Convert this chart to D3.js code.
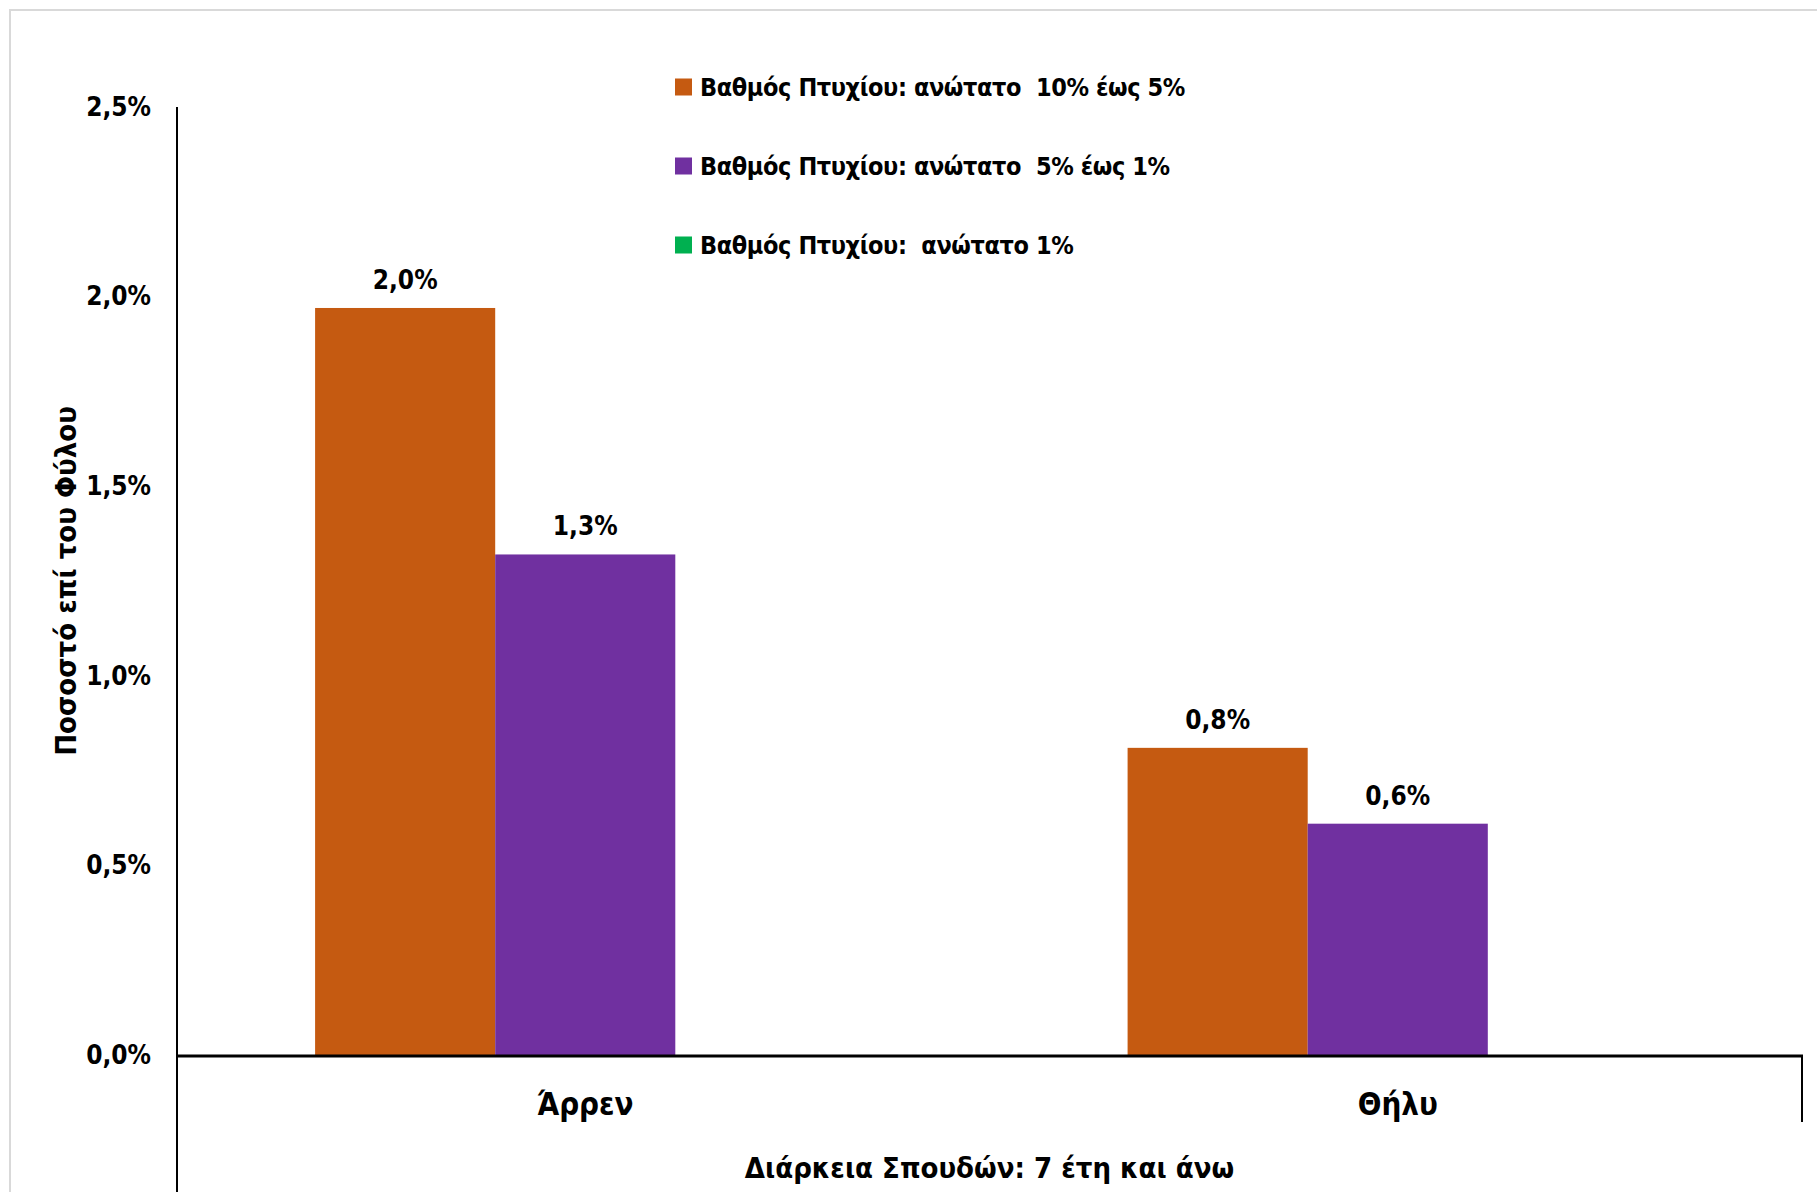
<!DOCTYPE html>
<meta charset="utf-8">
<head>
<style>
  body { margin: 0; background: #fff; }
  svg text { font-family: "Liberation Sans Narrow", "DejaVu Sans Condensed", "Liberation Sans", sans-serif; font-weight: bold; fill: #000; }
  .axis .domain { display: none; }
  .axis line { display: none; }
</style>
</head>
<body>
<script src="https://d3js.org/d3.v7.min.js"></script>
<script>

// data
var categories = ["Άρρεν", "Θήλυ"];
var seriesNames = [
  "Βαθμός Πτυχίου: ανώτατο  10% έως 5%",
  "Βαθμός Πτυχίου: ανώτατο  5% έως 1%",
  "Βαθμός Πτυχίου:  ανώτατο 1%"
];
var seriesColors = ["#c55a11", "#7030a0", "#00b050"];
var top10to5 = [0.0197, 0.0081];
var top5to1 = [0.0132, 0.0061];
var top1 = [null, null];
var yTicks = [0, 0.005, 0.01, 0.015, 0.02, 0.025];

var allSeries = [top10to5, top5to1, top1];

var width = 1817, height = 1192;
var plot = {left: 177, right: 1802, top: 107, bottom: 1055};

var svg = d3.select("body").append("svg")
    .attr("width", width)
    .attr("height", height);

// chart border
svg.append("rect")
    .attr("x", 10).attr("y", 10)
    .attr("width", width).attr("height", height)
    .style("fill", "none")
    .style("stroke", "#d9d9d9")
    .style("stroke-width", 2);

var y = d3.scaleLinear().domain([0, 0.025]).range([plot.bottom, plot.top]);

var x0 = d3.scaleBand().domain(categories)
    .range([plot.left + 2, plot.right + 2])
    .paddingInner(0.335).paddingOuter(0.1675);

var x1 = d3.scaleBand().domain(d3.range(seriesNames.length))
    .range([0, x0.bandwidth()]);

var pct = function(v) { return d3.format(".1%")(v).replace(".", ","); };

// y axis labels
var yAxis = d3.axisLeft(y).tickValues(yTicks).tickFormat(pct).tickSize(0).tickPadding(26);
svg.append("g")
    .attr("class", "axis")
    .attr("transform", "translate(" + plot.left + ",0)")
    .call(yAxis)
  .selectAll("text")
    .style("font-size", "26px");

// bars
var barData = [];
allSeries.forEach(function(vals, si) {
  vals.forEach(function(v, ci) {
    if (v != null) barData.push({s: si, c: categories[ci], v: v});
  });
});

svg.selectAll("rect.bar")
    .data(barData)
  .enter().append("rect")
    .attr("class", "bar")
    .attr("x", function(d) { return x0(d.c) + x1(d.s); })
    .attr("width", x1.bandwidth())
    .attr("y", function(d) { return y(d.v); })
    .attr("height", function(d) { return y(0) - y(d.v); })
    .style("fill", function(d) { return seriesColors[d.s]; });

svg.selectAll("text.lbl")
    .data(barData)
  .enter().append("text")
    .attr("class", "lbl")
    .attr("x", function(d) { return x0(d.c) + x1(d.s) + x1.bandwidth() / 2; })
    .attr("y", function(d) { return y(d.v) - 19; })
    .attr("text-anchor", "middle")
    .style("font-size", "26px")
    .text(function(d) { return pct(d.v); });

// axis lines
svg.append("line")
    .attr("x1", plot.left).attr("x2", plot.left)
    .attr("y1", plot.top).attr("y2", height)
    .style("stroke", "#000").style("stroke-width", 2);
svg.append("line")
    .attr("x1", plot.right).attr("x2", plot.right)
    .attr("y1", plot.bottom).attr("y2", 1122)
    .style("stroke", "#000").style("stroke-width", 2);
svg.append("line")
    .attr("x1", plot.left).attr("x2", plot.right + 1)
    .attr("y1", plot.bottom + 1).attr("y2", plot.bottom + 1)
    .style("stroke", "#000").style("stroke-width", 3);

// category labels
svg.selectAll("text.cat")
    .data(categories)
  .enter().append("text")
    .attr("class", "cat")
    .attr("x", function(d) { return x0(d) + x0.bandwidth() / 2; })
    .attr("y", 1104)
    .attr("dy", "0.35em")
    .attr("text-anchor", "middle")
    .style("font-size", "31px")
    .text(function(d) { return d; });

// x axis title
svg.append("text")
    .attr("x", (plot.left + plot.right) / 2)
    .attr("y", 1168)
    .attr("dy", "0.35em")
    .attr("text-anchor", "middle")
    .style("font-size", "29px")
    .text("Διάρκεια Σπουδών: 7 έτη και άνω");

// y axis title
svg.append("text")
    .attr("transform", "translate(66," + ((plot.top + plot.bottom) / 2) + ") rotate(-90)")
    .attr("dy", "0.35em")
    .attr("text-anchor", "middle")
    .style("font-size", "29px")
    .text("Ποσοστό επί του Φύλου");

// legend
var legend = svg.selectAll("g.legend")
    .data(seriesNames)
  .enter().append("g")
    .attr("class", "legend")
    .attr("transform", function(d, i) { return "translate(675," + (87 + i * 79) + ")"; });

legend.append("rect")
    .attr("y", -8.5)
    .attr("width", 17).attr("height", 17)
    .style("fill", function(d, i) { return seriesColors[i]; });

legend.append("text")
    .attr("x", 25)
    .attr("dy", "0.35em")
    .style("font-size", "25px")
    .style("letter-spacing", "-0.4px")
    .style("white-space", "pre")
    .text(function(d) { return d; });

</script>
</body>
